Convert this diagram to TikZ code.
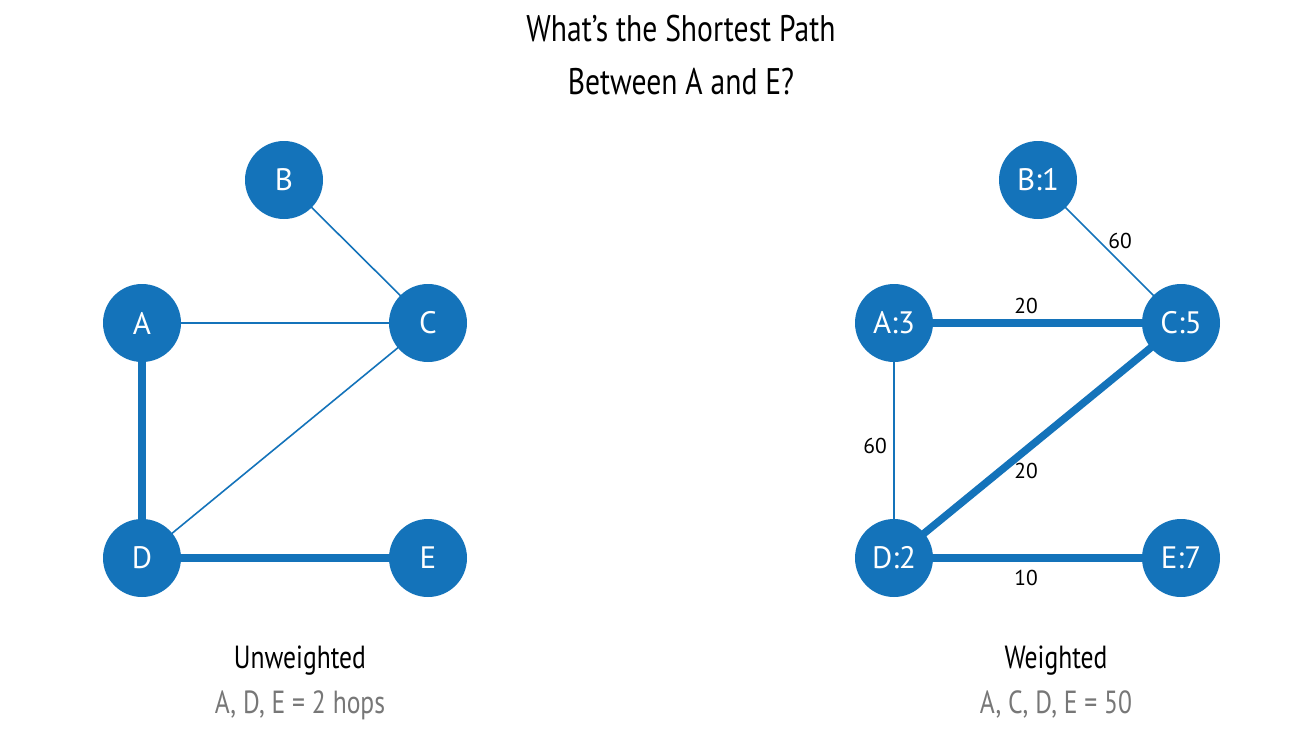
\documentclass[tikz,border=0pt]{standalone}
\usepackage{fontspec}
\setmainfont{PT Sans}
\newfontfamily\condfont[FakeStretch=0.8]{PT Sans}
\usetikzlibrary{backgrounds}
\definecolor{nodeblue}{HTML}{1473BA}
\definecolor{subgray}{HTML}{777777}
\tikzset{
  gnode/.style={circle, fill=nodeblue, draw=none, minimum size=78pt, inner sep=0pt,
    text=white, font=\fontsize{31}{34}\selectfont},
  thinedge/.style={draw=nodeblue, line width=1.6pt},
  thickedge/.style={draw=nodeblue, line width=7.5pt},
  wlabel/.style={font=\fontsize{21.5}{24}\selectfont, text=black, inner sep=0pt},
  titletext/.style={font=\condfont\fontsize{37}{42}\selectfont, text=black, anchor=base, inner sep=0pt},
  captext/.style={font=\condfont\fontsize{32}{38}\selectfont, text=black, anchor=base, inner sep=0pt},
  resulttext/.style={font=\condfont\fontsize{32}{38}\selectfont, text=subgray, anchor=base, inner sep=0pt}
}
\begin{document}
\begin{tikzpicture}[x=1pt, y=-1pt]
\useasboundingbox (0,0) rectangle (1310,732);
% titles
\node[titletext] (t1) at (681,41) {What’s the Shortest Path};
\node[titletext] (t2) at (681,94) {Between A and E?};
% left graph
\node[gnode] (B) at (284,180) {B};
\node[gnode] (A) at (142,323) {A};
\node[gnode] (C) at (428,323) {C};
\node[gnode] (D) at (142,558) {D};
\node[gnode] (E) at (428,558) {E};
% right graph
\node[gnode] (B1) at (1038,180) {B:1};
\node[gnode] (A3) at (894,323) {A:3};
\node[gnode] (C5) at (1181,323) {C:5};
\node[gnode] (D2) at (894,558) {D:2};
\node[gnode] (E7) at (1181,558) {E:7};
\begin{scope}[on background layer]
  \draw[thinedge] (B.center) -- (C.center);
  \draw[thinedge] (A.center) -- (C.center);
  \draw[thinedge] (C.center) -- (D.center);
  \draw[thickedge] (A.center) -- (D.center);
  \draw[thickedge] (D.center) -- (E.center);
  \draw[thinedge] (B1.center) -- node[wlabel, midway, xshift=10.5pt, yshift=10.5pt] {60} (C5.center);
  \draw[thickedge] (A3.center) -- node[wlabel, midway, xshift=-11.5pt, yshift=17pt] {20} (C5.center);
  \draw[thinedge] (A3.center) -- node[wlabel, midway, xshift=-19pt, yshift=-5.5pt] {60} (D2.center);
  \draw[thickedge] (C5.center) -- node[wlabel, midway, xshift=-11.5pt, yshift=-30.5pt] {20} (D2.center);
  \draw[thickedge] (D2.center) -- node[wlabel, midway, xshift=-11.5pt, yshift=-20pt] {10} (E7.center);
\end{scope}
% captions
\node[captext] (u1) at (300,668) {Unweighted};
\node[resulttext] (u2) at (300,713) {A, D, E = 2 hops};
\node[captext] (w1) at (1056,668) {Weighted};
\node[resulttext] (w2) at (1056,713) {A, C, D, E = 50};
\end{tikzpicture}
\end{document}
